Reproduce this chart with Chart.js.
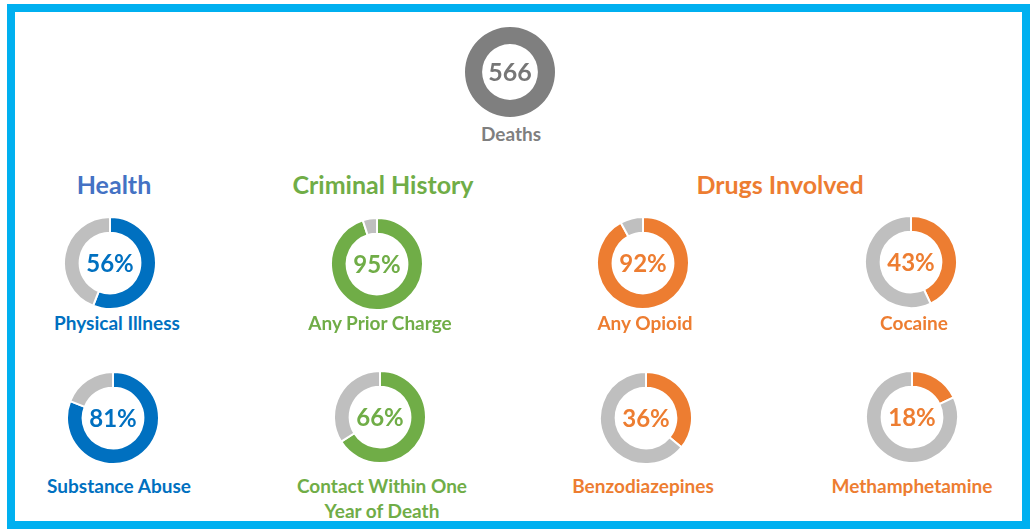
<!DOCTYPE html>
<html>
<head>
<meta charset="utf-8">
<script src="https://cdn.jsdelivr.net/npm/chart.js@4.4.1/dist/chart.umd.min.js"></script>
<style>
  html, body { margin: 0; padding: 0; background: #ffffff; }
  body { width: 1036px; height: 531px; position: relative; overflow: hidden; font-family: Lato, "Open Sans", sans-serif; }
  #frame { position: absolute; left: 7px; top: 4px; width: 1007px; height: 509px; border: 8px solid #00B0F0; box-sizing: content-box; }
  canvas { position: absolute; }
  .txt { position: absolute; transform: translate(-50%, -50%); white-space: nowrap; font-weight: 700; text-align: center; line-height: 1; }
</style>
</head>
<body>
<div id="frame"></div>
<script>
// ---- data ----
const totalLabel = "Deaths";
const totalValue = 566;
const groups = ["Health", "Criminal History", "Drugs Involved"];
const categories = ["Physical Illness", "Substance Abuse", "Any Prior Charge", "Contact Within One Year of Death", "Any Opioid", "Cocaine", "Benzodiazepines", "Methamphetamine"];
const categoryLines = [["Physical Illness"], ["Substance Abuse"], ["Any Prior Charge"], ["Contact Within One", "Year of Death"], ["Any Opioid"], ["Cocaine"], ["Benzodiazepines"], ["Methamphetamine"]];
const categoryGroup = [0, 0, 1, 1, 2, 2, 2, 2];
const percentValues = [56, 81, 95, 66, 92, 43, 36, 18];

// ---- styles / layout ----
const groupTitleColors = ["#4472C4", "#70AD47", "#ED7D31"];
const groupColors = ["#0070C0", "#70AD47", "#ED7D31"];
const restColor = "#BFBFBF";
const totalColor = "#7F7F7F";
const groupTitlePos = [[114, 184], [383, 184], [780, 184]];
const donutCenter = {
  "Physical Illness": [110, 263], "Substance Abuse": [113, 418],
  "Any Prior Charge": [377, 264], "Contact Within One Year of Death": [380, 417],
  "Any Opioid": [643, 263], "Cocaine": [911, 262],
  "Benzodiazepines": [646, 418], "Methamphetamine": [912, 417]
};
const labelCenter = {
  "Physical Illness": [117, 322], "Substance Abuse": [119, 485],
  "Any Prior Charge": [380, 322], "Contact Within One Year of Death": [382, 485],
  "Any Opioid": [645, 322], "Cocaine": [914, 322],
  "Benzodiazepines": [643, 485], "Methamphetamine": [912, 485]
};
const R = 46;

function addText(text, x, y, size, color) {
  const d = document.createElement('div');
  d.className = 'txt';
  d.textContent = text;
  d.style.left = x + 'px';
  d.style.top = y + 'px';
  d.style.fontSize = size + 'px';
  d.style.color = color;
  document.body.appendChild(d);
}

const centerText = {
  id: 'centerText',
  afterDraw(chart, args, opts) {
    const arc = chart.getDatasetMeta(0).data[0];
    if (!arc) return;
    const ctx = chart.ctx;
    ctx.save();
    ctx.font = opts.font;
    ctx.fillStyle = opts.color;
    ctx.textAlign = 'center';
    ctx.textBaseline = 'middle';
    ctx.fillText(opts.text, arc.x, arc.y + 1);
    ctx.restore();
  }
};

function makeDonut(cx, cy, radius, data, colors, borderWidth, cutout, text, textColor, font) {
  const size = radius * 2 + borderWidth;
  const c = document.createElement('canvas');
  c.width = size; c.height = size;
  c.style.width = size + 'px'; c.style.height = size + 'px';
  c.style.left = (cx - size / 2) + 'px';
  c.style.top = (cy - size / 2) + 'px';
  document.body.appendChild(c);
  new Chart(c, {
    type: 'doughnut',
    data: { labels: ['a', 'b'].slice(0, data.length), datasets: [{ data: data, backgroundColor: colors, borderColor: '#ffffff', borderWidth: borderWidth, hoverOffset: 0 }] },
    options: {
      responsive: false, animation: false, cutout: cutout,
      layout: { padding: 0 },
      plugins: { legend: { display: false }, tooltip: { enabled: false }, centerText: { text: text, color: textColor, font: font } }
    },
    plugins: [centerText]
  });
}

// total
makeDonut(510, 72, 45, [totalValue], [totalColor], 0, '62%', String(totalValue), '#767676', '700 25px Lato');
addText(totalLabel, 511, 133, 19, totalColor);

groups.forEach((g, i) => addText(g, groupTitlePos[i][0], groupTitlePos[i][1], 25, groupTitleColors[i]));

categories.forEach((cat, i) => {
  const col = groupColors[categoryGroup[i]];
  const [cx, cy] = donutCenter[cat];
  makeDonut(cx, cy, R, [percentValues[i], 100 - percentValues[i]], [col, restColor], 2, '66%', percentValues[i] + '%', col, '700 24px Lato');
  const [lx, ly] = labelCenter[cat];
  categoryLines[i].forEach((line, k) => addText(line, lx, ly + k * 25, 19, col));
});
</script>
</body>
</html>
